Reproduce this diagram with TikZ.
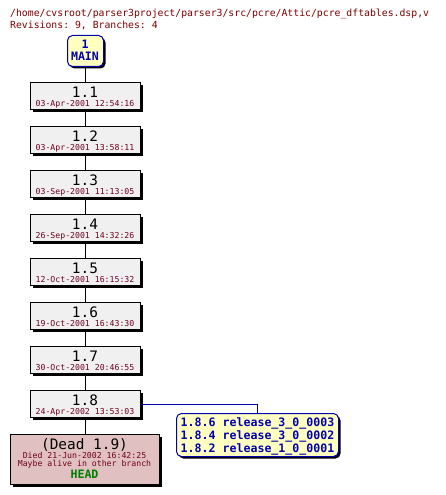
\documentclass[tikz,border=0pt]{standalone}
\usepackage{fontspec}
\setmonofont{DejaVu Sans Mono}
\usetikzlibrary{shadows}
\definecolor{titlered}{HTML}{800000}
\definecolor{datered}{HTML}{700020}
\definecolor{revgray}{HTML}{F0F0F0}
\definecolor{tagyellow}{HTML}{FFFFC0}
\definecolor{tagblue}{HTML}{0000B0}
\definecolor{deadpink}{HTML}{E0C0C0}
\definecolor{headgreen}{HTML}{008000}
\tikzset{
  shad/.style={general shadow={fill=black, shadow xshift=2pt, shadow yshift=-2pt}},
  revbox/.style={shad, draw=black, line width=1pt, fill=revgray, minimum width=110pt, minimum height=27pt, inner sep=0pt, anchor=north west},
  tagbox/.style={shad, draw=tagblue, line width=1pt, fill=tagyellow, rounded corners=5pt, inner sep=0pt, anchor=north west},
  deadbox/.style={shad, draw=black, line width=1pt, fill=deadpink, minimum width=149pt, minimum height=50pt, inner sep=0pt, anchor=north west},
  revtxt/.style={font=\ttfamily\fontsize{14.4}{15}\selectfont, anchor=base, inner sep=0pt},
  datetxt/.style={font=\ttfamily\fontsize{8.2}{9}\selectfont, text=datered, anchor=base, inner sep=0pt},
  bluetxt/.style={font=\ttfamily\bfseries\fontsize{11.6}{12}\selectfont, text=tagblue, anchor=base, inner sep=0pt},
  titletxt/.style={font=\ttfamily\fontsize{9.8}{10}\selectfont, text=titlered, anchor=base west, inner sep=0pt},
  conn/.style={draw=black, line width=1pt},
  bconn/.style={draw=tagblue, line width=1pt},
}
\begin{document}
\begin{tikzpicture}[x=1pt, y=-1pt]
\useasboundingbox[fill=white] (0,0) rectangle (446,495);
\node[titletxt] (title) at (10,16.5) {/home/cvsroot/parser3project/parser3/src/pcre/Attic/pcre\_dftables.dsp,v};
\node[titletxt] (revs) at (10,28.7) {Revisions: 9, Branches: 4};
% MAIN
\node[tagbox, minimum width=36pt, minimum height=31pt] (main) at (67,35) {};
\node[bluetxt] (mainnum) at (85,48.3) {1};
\node[bluetxt] (mainlbl) at (85,60.7) {MAIN};
% revisions
\foreach \i/\d [count=\k from 0] in {1/03-Apr-2001 12:54:16, 2/03-Apr-2001 13:58:11, 3/03-Sep-2001 11:13:05, 4/26-Sep-2001 14:32:26, 5/12-Oct-2001 16:15:32, 6/19-Oct-2001 16:43:30, 7/30-Oct-2001 20:46:55, 8/24-Apr-2002 13:53:03}{
  \node[revbox] (r\i) at (30,82+44*\k) {};
  \node[revtxt] (r\i n) at (85,97.7+44*\k) {1.\i};
  \node[datetxt] (r\i d) at (85,106.5+44*\k) {\d};
}
% dead
\node[deadbox] (dead) at (10,434) {};
\node[revtxt] (deadn) at (84.5,449) {(Dead 1.9)};
\node[datetxt] (deadd) at (84.5,458.7) {Died 21-Jun-2002 16:42:25};
\node[datetxt] (deadm) at (84.5,466.5) {Maybe alive in other branch};
\node[bluetxt, text=headgreen] (head) at (84.5,478.7) {HEAD};
% branch tags
\node[tagbox, minimum width=162pt, minimum height=43pt] (tags) at (176,413) {};
\node[bluetxt, anchor=base west] (t1) at (180.5,426) {1.8.6 release\_3\_0\_0003};
\node[bluetxt, anchor=base west] (t2) at (180.5,439) {1.8.4 release\_3\_0\_0002};
\node[bluetxt, anchor=base west] (t3) at (180.5,452) {1.8.2 release\_1\_0\_0001};
% connectors
\draw[conn] (main.south) -- (r1.north);
\foreach \a/\b in {1/2,2/3,3/4,4/5,5/6,6/7,7/8}{
  \draw[conn] (r\a.south) -- (r\b.north);
}
\draw[conn] (r8.south) -- (r8.south |- dead.north);
\draw[bconn] (r8.east) -| (tags.north);
\end{tikzpicture}
\end{document}
